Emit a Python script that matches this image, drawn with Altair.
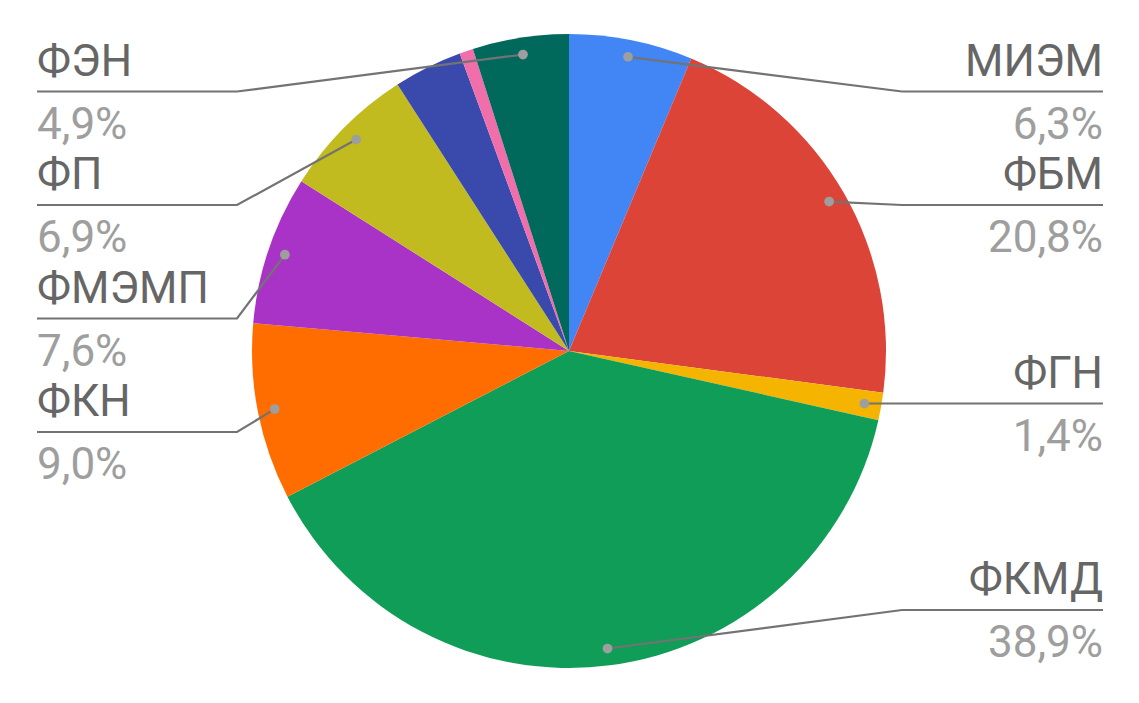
import math
import altair as alt
import pandas as pd

# ---- data ----
names = ["МИЭМ", "ФБМ", "ФГН", "ФКМД", "ФКН", "ФМЭМП", "ФП", "ВШБ", "ФГП", "ФЭН"]
values = [6.3, 20.8, 1.4, 38.9, 9.0, 7.6, 6.9, 3.5, 0.7, 4.9]
colors = ["#4285F4", "#DB4437", "#F4B400", "#0F9D58", "#FF6D00",
          "#A933C6", "#C1BB1F", "#3A4AAC", "#F06EAA", "#00695C"]

# ---- layout ----
W, H = 1123, 687
CX, CY, R = 561, 343, 317
DOT_R = 300
LEFT_X, RIGHT_X = 29, 1095
LEFT_ELBOW, RIGHT_ELBOW = 229, 894
TOP_Y, BOTTOM_Y, GAP = 83.5, 602, 113.5
MAX_PER_SIDE = 4
FONT = "Roboto"
FS = 44

total = sum(values)
pie = pd.DataFrame({"name": names, "value": values, "idx": range(len(names))})

# dot positions at slice mid-angles
rows = []
cum = 0.0
for i, (n, v) in enumerate(zip(names, values)):
    a = 2 * math.pi * (cum + v / 2) / total
    cum += v
    dx, dy = CX + DOT_R * math.sin(a), CY - DOT_R * math.cos(a)
    rows.append(dict(name=n, value=v, dx=dx, dy=dy,
                     side="R" if math.sin(a) >= 0 else "L",
                     pct=f"{v / total * 100:.1f}".replace(".", ",") + "%"))

labels = []
for side in ["L", "R"]:
    cand = sorted([r for r in rows if r["side"] == side], key=lambda r: -r["value"])[:MAX_PER_SIDE]
    cand.sort(key=lambda r: r["dy"])
    ys = []
    for r in cand:
        y = max(r["dy"], TOP_Y if not ys else ys[-1] + GAP)
        ys.append(y)
    # clamp bottom and push upward
    for k in range(len(ys) - 1, -1, -1):
        lim = BOTTOM_Y if k == len(ys) - 1 else ys[k + 1] - GAP
        ys[k] = min(ys[k], lim)
    for r, y in zip(cand, ys):
        r = dict(r)
        r["ly"] = y
        r["tx"] = LEFT_X if side == "L" else RIGHT_X
        r["ex"] = LEFT_ELBOW if side == "L" else RIGHT_ELBOW
        labels.append(r)

lab = pd.DataFrame(labels)
line_rows = []
for r in labels:
    line_rows += [dict(name=r["name"], o=0, x=r["tx"], y=r["ly"]),
                  dict(name=r["name"], o=1, x=r["ex"], y=r["ly"]),
                  dict(name=r["name"], o=2, x=r["dx"], y=r["dy"])]
lines = pd.DataFrame(line_rows)

xs = alt.Scale(domain=[0, W], range=[0, W], zero=False, nice=False)
ys_ = alt.Scale(domain=[0, H], range=[0, H], zero=False, nice=False)

arc = alt.Chart(pie).mark_arc(radius=R).encode(
    theta=alt.Theta("value:Q", stack=True),
    order=alt.Order("idx:Q"),
    color=alt.Color("name:N", scale=alt.Scale(domain=names, range=colors), legend=None),
    x=alt.value(CX), y=alt.value(CY),
)

leader = alt.Chart(lines).mark_line(color="#737373", strokeWidth=2.2).encode(
    x=alt.X("x:Q", scale=xs, axis=None),
    y=alt.Y("y:Q", scale=ys_, axis=None),
    detail="name:N",
    order="o:Q",
)

dots = alt.Chart(lab).mark_circle(size=math.pi * 5.5 ** 2, color="#9E9E9E", opacity=1).encode(
    x=alt.X("dx:Q", scale=xs, axis=None),
    y=alt.Y("dy:Q", scale=ys_, axis=None),
)

def texts(side, align):
    base = alt.Chart(lab[lab["side"] == side])
    nm = base.mark_text(align=align, baseline="alphabetic", dy=-16, font=FONT,
                        fontSize=FS, color="#666666").encode(
        x=alt.X("tx:Q", scale=xs, axis=None), y=alt.Y("ly:Q", scale=ys_, axis=None),
        text="name:N")
    pc = base.mark_text(align=align, baseline="alphabetic", dy=47, font=FONT,
                        fontSize=FS, color="#9E9E9E").encode(
        x=alt.X("tx:Q", scale=xs, axis=None), y=alt.Y("ly:Q", scale=ys_, axis=None),
        text="pct:N")
    return nm + pc

chart = alt.layer(arc, leader, dots, texts("L", "left"), texts("R", "right")).properties(
    width=W, height=H, padding=0, autosize=alt.AutoSizeParams(type="none"),
    background="white",
).configure_view(stroke=None)

chart.save("out.html", embed_options={"renderer": "svg", "actions": False})
